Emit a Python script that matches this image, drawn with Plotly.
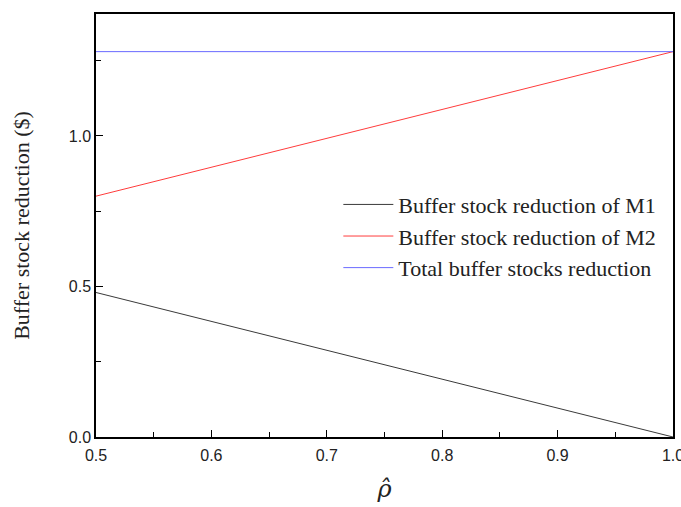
import plotly.graph_objects as go

rho = [0.5, 1.0]
m1 = [0.48, 0.0]
m2 = [0.80, 1.28]
total = [1.28, 1.28]
names = ["Buffer stock reduction of M1", "Buffer stock reduction of M2", "Total buffer stocks reduction"]
colors = ["#3a3a3a", "#ff3c3c", "#6a6aff"]

fig = go.Figure()
for y, n, c in zip([m1, m2, total], names, colors):
    fig.add_trace(go.Scatter(x=rho, y=y, mode="lines", name=n, line=dict(color=c, width=1)))

axis_common = dict(showline=True, linecolor="black", linewidth=1.5, mirror=True, ticks="inside",
                   ticklen=7, tickwidth=1.2, tickcolor="black", showgrid=False, zeroline=False,
                   automargin=False, ticklabeloverflow="allow",
                   tickfont=dict(family="Liberation Sans, Arial", size=16, color="#222"))
fig.update_xaxes(range=[0.5, 1.0], dtick=0.1, tickformat=".1f", ticklabelstandoff=3,
                 minor=dict(ticks="inside", ticklen=5, dtick=0.05, tickcolor="black"),
                 title=dict(text="<i>ρ̂</i>", font=dict(family="DejaVu Serif", size=24, color="#222"), standoff=17),
                 **axis_common)
fig.update_yaxes(range=[0, 1.405], dtick=0.5, tickformat=".1f",
                 minor=dict(ticks="inside", ticklen=5, dtick=0.25, tickcolor="black"),
                 title=dict(text="Buffer stock reduction ($)", font=dict(family="Liberation Serif, Times New Roman", size=22, color="#222"), standoff=33),
                 **axis_common)
fig.update_layout(
    width=681, height=507, margin=dict(l=96, r=8, t=14, b=70),
    plot_bgcolor="white", paper_bgcolor="white",
    legend=dict(x=0.42, y=0.599, xanchor="left", yanchor="top", bgcolor="rgba(0,0,0,0)",
                font=dict(family="Liberation Serif, Times New Roman", size=22, color="#222"),
                itemwidth=50, tracegroupgap=0),
)
fig.write_html("out.html", config={"displayModeBar": False},
               post_script="document.body.style.margin='0';document.body.style.overflow='hidden';")
